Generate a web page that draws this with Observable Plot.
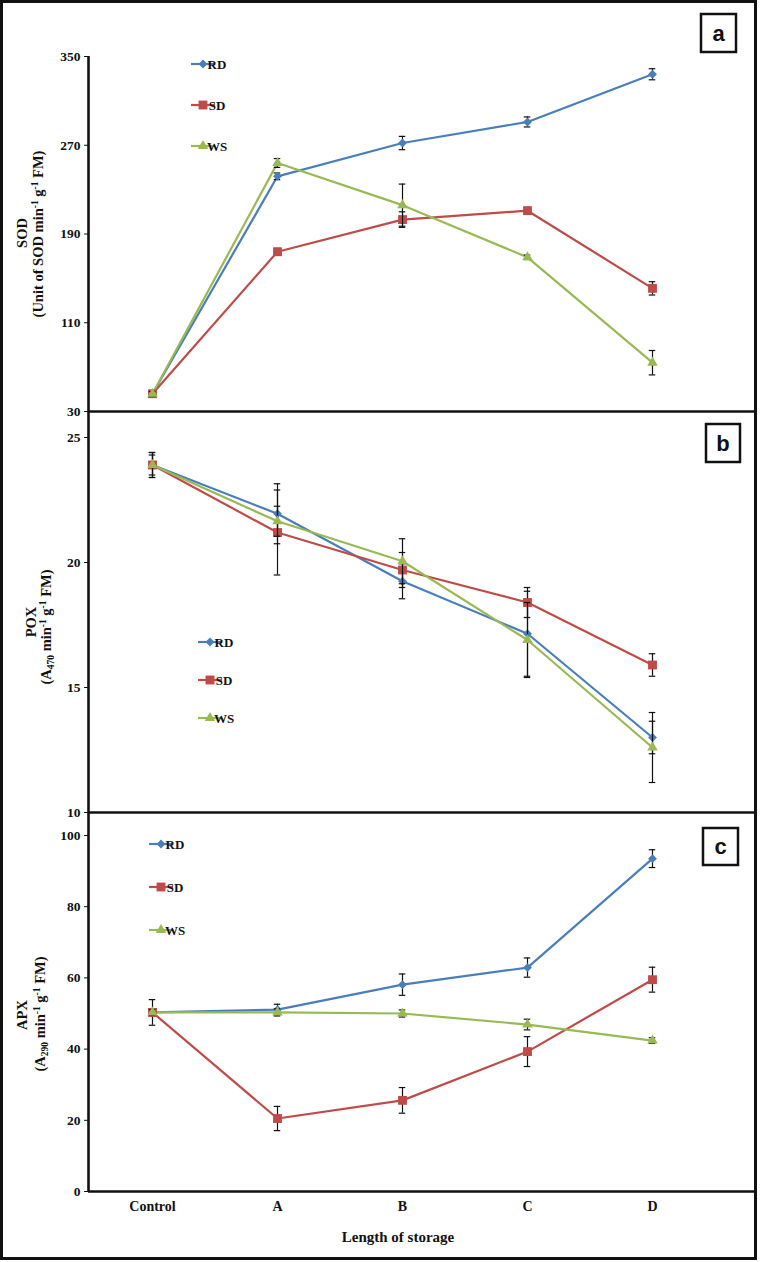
<!DOCTYPE html>
<html><head><meta charset="utf-8">
<script src="https://cdn.jsdelivr.net/npm/d3@7"></script>
<script src="https://cdn.jsdelivr.net/npm/@observablehq/plot@0.6"></script>
<style>
body{margin:0;background:#fff;}
#wrap{position:relative;width:762px;height:1262px;overflow:hidden;background:#fff;}
#wrap svg{position:absolute;left:0;overflow:visible;background:transparent;}
#frame{position:absolute;left:0;top:0;width:751px;height:1254px;border:3px solid #111;pointer-events:none;}
</style></head><body><div id="wrap"><div id="frame"></div></div>
<script>
const categories = ["Control", "A", "B", "C", "D"];
const seriesNames = ["RD", "SD", "WS"];
const seriesColors = ["#4A7EBB", "#BE4B48", "#98B954"];
const seriesSymbols = ["diamond2", "square", "triangle"];
const seriesR = [4, 5, 3.9];

// Panel a: SOD
const sodRD = [46, 242, 272, 291, 334];
const sodSD = [46, 174, 203, 211, 141];
const sodWS = [46, 254, 216, 169, 74];
const sodRDErr = [2, 3, 6, 4.5, 5];
const sodSDErr = [2, 3, 7, 3, 6];
const sodWSErr = [2, 4, 19, 2, 11];
const sodTicks = [30, 110, 190, 270, 350];

// Panel b: POX
const poxRD = [23.9, 21.95, 19.25, 17.15, 13.0];
const poxSD = [23.9, 21.2, 19.7, 18.4, 15.9];
const poxWS = [23.9, 21.65, 20.05, 16.9, 12.6];
const poxRDErr = [0.5, 1.2, 0.7, 1.7, 0.65];
const poxSDErr = [0.5, 1.7, 0.7, 0.6, 0.45];
const poxWSErr = [0.4, 0.6, 0.9, 1.5, 1.4];
const poxTicks = [10, 15, 20, 25];

// Panel c: APX
const apxRD = [50.3, 51.1, 58.1, 62.9, 93.5];
const apxSD = [50.3, 20.5, 25.6, 39.3, 59.5];
const apxWS = [50.3, 50.3, 50.0, 46.9, 42.4];
const apxRDErr = [1, 1.5, 3, 2.7, 2.5];
const apxSDErr = [3.6, 3.4, 3.6, 4.2, 3.5];
const apxWSErr = [0.8, 1, 1, 1.5, 0.8];
const apxTicks = [0, 20, 40, 60, 80, 100];

const xDomain = [-0.512, 4.816];
const serif = "'Liberation Serif', 'Times New Roman', serif";
const sans = "'Liberation Sans', Arial, sans-serif";

function makePanel(o) {
  const marks = [];
  marks.push(Plot.ruleY([o.domain[0]], {stroke: "#111", strokeWidth: 2.6}));
  marks.push(Plot.ruleX([xDomain[0]], {stroke: "#111", strokeWidth: 2.6}));
  marks.push(Plot.axisY({ticks: o.ticks, tickSize: 4, tickPadding: 4, label: null}));
  if (o.xAxis) {
    marks.push(Plot.axisX({ticks: categories.map((_, i) => i), tickFormat: i => categories[i], tickSize: 0, tickPadding: 10, label: null}));
  }
  const data = seriesNames.map((s, k) => o.values[k].map((v, i) => ({series: s, i, v, e: o.errors[k][i]})));
  data.forEach((d, k) => {
    marks.push(Plot.line(d, {x: "i", y: "v", stroke: seriesColors[k], strokeWidth: 2.2}));
  });
  data.forEach((d, k) => {
    marks.push(Plot.ruleX(d, {x: "i", y1: r => r.v - r.e, y2: r => r.v + r.e, stroke: "#111", strokeWidth: 1.2}));
    marks.push(Plot.ruleY(d, {y: r => r.v + r.e, x1: r => r.i - 0.026, x2: r => r.i + 0.026, stroke: "#111", strokeWidth: 1.2}));
    marks.push(Plot.ruleY(d, {y: r => r.v - r.e, x1: r => r.i - 0.026, x2: r => r.i + 0.026, stroke: "#111", strokeWidth: 1.2}));
    marks.push(Plot.dot(d, {x: "i", y: "v", symbol: seriesSymbols[k], fill: seriesColors[k], stroke: "none", r: seriesR[k]}));
  });
  const svg = Plot.plot({
    width: 762,
    height: o.height,
    marginLeft: 88,
    marginRight: 8,
    marginTop: o.marginTop,
    marginBottom: o.marginBottom,
    x: {type: "linear", domain: xDomain, axis: o.xAxis ? undefined : null},
    y: {domain: o.domain},
    style: {fontFamily: serif, fontSize: "13.5px", fontWeight: "bold", color: "#111", background: "transparent", overflow: "visible"},
    marks
  });
  svg.style.top = o.top + "px";
  document.getElementById("wrap").insertBefore(svg, document.getElementById("frame"));
  d3.select(svg).selectAll("text").style("font-family", serif).style("font-weight", "bold").style("font-size", "13.5px");
  d3.select(svg).selectAll("g[aria-label='x-axis tick label'] text").style("font-size", "14px");
  const g = d3.select(svg).append("g");

  // legend
  o.legendY.forEach((ly, k) => {
    g.append("line").attr("x1", o.legendX).attr("x2", o.legendX + 24).attr("y1", ly).attr("y2", ly)
      .attr("stroke", seriesColors[k]).attr("stroke-width", 2.2);
    const sym = {diamond2: d3.symbolDiamond2, square: d3.symbolSquare, triangle: d3.symbolTriangle}[seriesSymbols[k]];
    g.append("path").attr("d", d3.symbol(sym, Math.PI * seriesR[k] * seriesR[k])())
      .attr("transform", `translate(${o.legendX + 12},${ly})`).attr("fill", seriesColors[k]);
    g.append("text").attr("x", o.legendX + 26).attr("y", ly + 4.5).text(seriesNames[k])
      .attr("font-family", serif).attr("font-weight", "bold").attr("font-size", 13).attr("fill", "#111");
  });

  // panel letter box
  g.append("rect").attr("x", o.box[0]).attr("y", o.box[1]).attr("width", o.box[2]).attr("height", o.box[3])
    .attr("fill", "#fff").attr("stroke", "#111").attr("stroke-width", 2.5);
  g.append("text").attr("x", o.box[0] + o.box[2] / 2).attr("y", o.box[1] + o.box[3] / 2 + 7.5)
    .attr("text-anchor", "middle").attr("font-family", sans).attr("font-weight", "bold").attr("font-size", 22)
    .attr("fill", "#111").text(o.letter);

  // y titles
  g.append("text").attr("transform", `translate(${o.title1[0]},${o.title1[1]}) rotate(-90)`)
    .attr("text-anchor", "middle").attr("font-family", serif).attr("font-weight", "bold").attr("font-size", 14.5)
    .attr("fill", "#111").text(o.titleMain);
  const t2 = g.append("text").attr("transform", `translate(${o.title2[0]},${o.title2[1]}) rotate(-90)`)
    .attr("text-anchor", "middle").attr("font-family", serif).attr("font-weight", "bold").attr("font-size", 14.5)
    .attr("fill", "#111");
  o.titleParts.forEach(p => {
    const ts = t2.append("tspan").text(p.t);
    if (p.sup) ts.attr("dy", -5).attr("font-size", 9.5);
    if (p.sub) ts.attr("dy", 3).attr("font-size", 9.5);
    if (p.back) ts.attr("dy", p.back);
  });
  return g;
}

makePanel({
  top: 0, height: 412, marginTop: 56, marginBottom: 1,
  domain: [30, 350], ticks: sodTicks,
  values: [sodRD, sodSD, sodWS], errors: [sodRDErr, sodSDErr, sodWSErr],
  legendX: 191, legendY: [64, 105, 146],
  box: [701, 14, 35, 38], letter: "a",
  title1: [27, 233], title2: [43, 234], titleMain: "SOD",
  titleParts: [{t: "(Unit of SOD min"}, {t: "-1", sup: true}, {t: " g", back: 5}, {t: "-1", sup: true}, {t: " FM)", back: 5}]
});

makePanel({
  top: 412, height: 401, marginTop: 0, marginBottom: 1,
  domain: [10, 26], ticks: poxTicks,
  values: [poxRD, poxSD, poxWS], errors: [poxRDErr, poxSDErr, poxWSErr],
  legendX: 198, legendY: [230, 268, 306],
  box: [706, 12, 34, 38], letter: "b",
  title1: [36, 210], title2: [51, 215], titleMain: "POX",
  titleParts: [{t: "(A"}, {t: "470", sub: true}, {t: " min", back: -3}, {t: "-1", sup: true}, {t: " g", back: 5}, {t: "-1", sup: true}, {t: " FM)", back: 5}]
});

const gc = makePanel({
  top: 812, height: 450, marginTop: 0, marginBottom: 71,
  domain: [0, 106.46], ticks: apxTicks, xAxis: true,
  values: [apxRD, apxSD, apxWS], errors: [apxRDErr, apxSDErr, apxWSErr],
  legendX: 149, legendY: [32, 75, 118],
  box: [703, 16, 35, 37], letter: "c",
  title1: [27, 203], title2: [45, 202], titleMain: "APX",
  titleParts: [{t: "(A"}, {t: "290", sub: true}, {t: " min", back: -3}, {t: "-1", sup: true}, {t: " g", back: 5}, {t: "-1", sup: true}, {t: " FM)", back: 5}]
});
gc.append("text").attr("x", 398).attr("y", 430).attr("text-anchor", "middle")
  .attr("font-family", serif).attr("font-weight", "bold").attr("font-size", 15).attr("fill", "#111")
  .text("Length of storage");
</script></body></html>
